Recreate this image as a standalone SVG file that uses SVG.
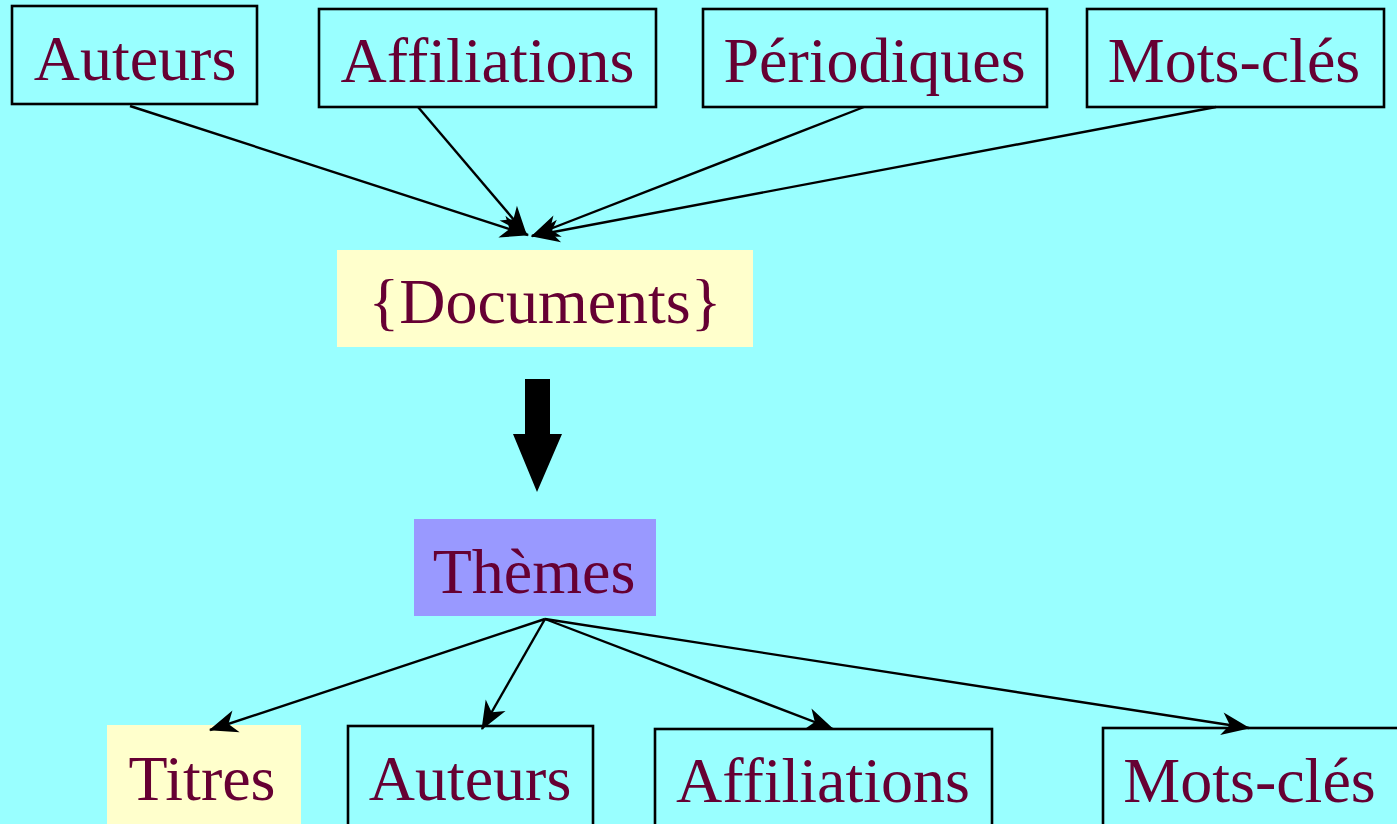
<svg xmlns="http://www.w3.org/2000/svg" width="1397" height="824" viewBox="0 0 1397 824">
  <defs>
    <style>
      .lbl { font-family: "Liberation Serif", "Times New Roman", serif; font-size: 64px; fill: #660033; text-anchor: middle; }
      .box { fill: #99FFFF; stroke: #000000; stroke-width: 2.6; }
      .note { fill: #FFFFCC; }
      .theme { fill: #9999FF; }
      .edge { fill: none; stroke: #000000; stroke-width: 2.4; }
    </style>
    <marker id="barb" markerUnits="userSpaceOnUse" markerWidth="32" markerHeight="26" viewBox="-26 -11 28 22" refX="0" refY="0" orient="auto">
      <path d="M1,0 L-24,-10 L-17,0 L-24,10 Z" fill="#000000"/>
    </marker>
  </defs>

  <rect width="1397" height="824" fill="#99FFFF"/>

  <!-- source boxes -->
  <g id="src-auteurs">
    <rect class="box" x="12" y="6" width="245" height="98"/>
    <text class="lbl" x="135" y="80">Auteurs</text>
  </g>
  <g id="src-affiliations">
    <rect class="box" x="319" y="9" width="337" height="98"/>
    <text class="lbl" x="487.5" y="82">Affiliations</text>
  </g>
  <g id="src-periodiques">
    <rect class="box" x="703" y="9" width="344" height="98"/>
    <text class="lbl" x="874.5" y="82">Périodiques</text>
  </g>
  <g id="src-motscles">
    <rect class="box" x="1087" y="9" width="297" height="98"/>
    <text class="lbl" x="1234" y="82">Mots-clés</text>
  </g>

  <!-- document set -->
  <g id="documents">
    <rect class="note" x="337" y="250" width="416" height="97"/>
    <text class="lbl" x="545" y="323">{Documents}</text>
  </g>

  <!-- themes -->
  <g id="themes">
    <rect class="theme" x="414" y="519" width="242" height="97"/>
    <text class="lbl" x="534" y="593">Thèmes</text>
  </g>

  <!-- result boxes -->
  <g id="out-titres">
    <rect class="note" x="107" y="725" width="194" height="110"/>
    <text class="lbl" x="202" y="800">Titres</text>
  </g>
  <g id="out-auteurs">
    <rect class="box" x="348" y="726" width="245" height="110"/>
    <text class="lbl" x="470" y="800">Auteurs</text>
  </g>
  <g id="out-affiliations">
    <rect class="box" x="655" y="729" width="337" height="110"/>
    <text class="lbl" x="823" y="802">Affiliations</text>
  </g>
  <g id="out-motscles">
    <rect class="box" x="1103" y="728" width="310" height="110"/>
    <text class="lbl" x="1249.5" y="802">Mots-clés</text>
  </g>

  <!-- connectors -->
  <g id="connectors">
    <line class="edge" x1="130" y1="106" x2="528" y2="235" marker-end="url(#barb)"/>
    <line class="edge" x1="418" y1="107" x2="526" y2="234" marker-end="url(#barb)"/>
    <line class="edge" x1="864" y1="107" x2="532" y2="236" marker-end="url(#barb)"/>
    <line class="edge" x1="1216" y1="107" x2="532" y2="236" marker-end="url(#barb)"/>

    <path d="M525,379 H550 V434 H562 L537,492 L513,434 H525 Z" fill="#000000"/>

    <line class="edge" x1="545" y1="619" x2="210" y2="730" marker-end="url(#barb)"/>
    <line class="edge" x1="545" y1="619" x2="482" y2="729" marker-end="url(#barb)"/>
    <line class="edge" x1="545" y1="619" x2="833" y2="729" marker-end="url(#barb)"/>
    <line class="edge" x1="545" y1="619" x2="1249" y2="728" marker-end="url(#barb)"/>
  </g>
</svg>
